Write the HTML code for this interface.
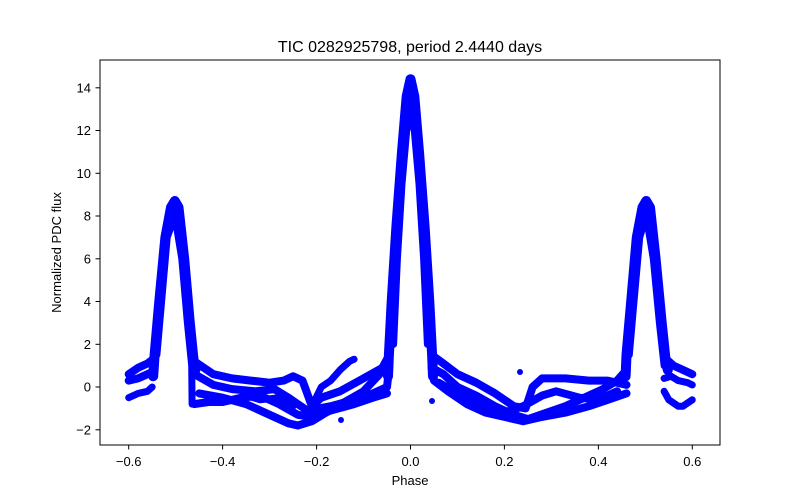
<!DOCTYPE html>
<html><head><meta charset="utf-8"><style>
body{margin:0;background:#fff}
svg{display:block;font-family:"Liberation Sans","DejaVu Sans",sans-serif}
</style></head><body>
<svg id="s" width="800" height="500" viewBox="0 0 800 500" xmlns="http://www.w3.org/2000/svg">
<rect width="800" height="500" fill="#fff"/>
<defs><clipPath id="c"><rect x="100" y="60" width="620" height="385"/></clipPath></defs>
<g id="data" clip-path="url(#c)"></g>
<circle cx="341" cy="420" r="3" fill="#00f"/>
<circle cx="520" cy="372" r="3" fill="#00f"/>
<circle cx="432" cy="401" r="3" fill="#00f"/>
<rect x="100" y="60" width="620" height="385" fill="none" stroke="#000" stroke-width="1"/>
<g stroke="#000" stroke-width="1">
<line x1="128.7" y1="445" x2="128.7" y2="449.5"/>
<line x1="222.6" y1="445" x2="222.6" y2="449.5"/>
<line x1="316.6" y1="445" x2="316.6" y2="449.5"/>
<line x1="410.5" y1="445" x2="410.5" y2="449.5"/>
<line x1="504.4" y1="445" x2="504.4" y2="449.5"/>
<line x1="598.4" y1="445" x2="598.4" y2="449.5"/>
<line x1="692.3" y1="445" x2="692.3" y2="449.5"/>
<line x1="95.5" y1="429.8" x2="100" y2="429.8"/>
<line x1="95.5" y1="387" x2="100" y2="387"/>
<line x1="95.5" y1="344.3" x2="100" y2="344.3"/>
<line x1="95.5" y1="301.5" x2="100" y2="301.5"/>
<line x1="95.5" y1="258.8" x2="100" y2="258.8"/>
<line x1="95.5" y1="216" x2="100" y2="216"/>
<line x1="95.5" y1="173.3" x2="100" y2="173.3"/>
<line x1="95.5" y1="130.5" x2="100" y2="130.5"/>
<line x1="95.5" y1="87.8" x2="100" y2="87.8"/>
</g>
<g font-size="13" fill="#000" text-anchor="middle">
<text x="128.7" y="466">−0.6</text>
<text x="222.6" y="466">−0.4</text>
<text x="316.6" y="466">−0.2</text>
<text x="410.5" y="466">0.0</text>
<text x="504.4" y="466">0.2</text>
<text x="598.4" y="466">0.4</text>
<text x="692.3" y="466">0.6</text>
</g>
<g font-size="13" fill="#000" text-anchor="end">
<text x="91" y="434.5">−2</text>
<text x="91" y="391.7">0</text>
<text x="91" y="349">2</text>
<text x="91" y="306.2">4</text>
<text x="91" y="263.5">6</text>
<text x="91" y="220.7">8</text>
<text x="91" y="178">10</text>
<text x="91" y="135.2">12</text>
<text x="91" y="92.5">14</text>
</g>
<text x="410" y="485" font-size="13" text-anchor="middle">Phase</text>
<text transform="translate(61,252.5) rotate(-90)" font-size="13" text-anchor="middle">Normalized PDC flux</text>
<text x="410" y="52" font-size="16" text-anchor="middle">TIC 0282925798, period 2.4440 days</text>
</svg>
<script>
var L=[
[8,[-0.6,0.6,-0.58,0.9,-0.56,1.1,-0.548,1.3]],
[8,[-0.6,0.3,-0.58,0.4,-0.56,0.6,-0.55,0.7]],
[7,[-0.6,-0.5,-0.58,-0.3,-0.56,-0.2,-0.55,0]],
[10,[-0.548,0.5,-0.545,1.5,-0.535,4,-0.522,7,-0.51,8.4,-0.502,8.7,-0.494,8.4,-0.482,6,-0.47,3,-0.462,1.3,-0.458,0.8]],
[7,[-0.54,1.5,-0.53,4,-0.518,7,-0.502,8,-0.487,6,-0.475,3,-0.466,1,-0.465,-0.8]],
[8,[-0.46,1.2,-0.42,0.6,-0.38,0.4,-0.34,0.3,-0.3,0.2,-0.27,0.3,-0.25,0.5,-0.23,0.3,-0.21,-0.9,-0.19,-0.5,-0.15,-0.2,-0.1,0.4,-0.06,0.9,-0.045,1.5]],
[8,[-0.46,0.6,-0.42,0.1,-0.38,-0.1,-0.33,-0.2,-0.29,-0.1,-0.26,-0.5,-0.22,-1.1,-0.17,-0.9,-0.12,-0.6,-0.08,-0.3,-0.05,0,-0.045,1]],
[8,[-0.46,-0.8,-0.43,-0.7,-0.4,-0.7,-0.36,-0.5,-0.32,-0.4,-0.28,-0.8,-0.24,-1.3,-0.21,-1.4,-0.17,-1.1,-0.12,-0.8,-0.08,-0.5,-0.05,-0.3]],
[8,[-0.45,-0.3,-0.4,-0.5,-0.35,-0.8,-0.3,-1.3,-0.26,-1.7,-0.24,-1.8,-0.21,-1.6,-0.18,-1.2,-0.14,-0.7,-0.1,-0.2,-0.07,0.5,-0.05,1]],
[7,[-0.21,-0.9,-0.19,0,-0.17,0.3,-0.15,0.8,-0.13,1.2,-0.12,1.3]],
[7,[-0.35,-0.4,-0.32,-0.6,-0.28,-0.5,-0.25,-0.9]],
[10,[-0.048,0.5,-0.046,1.5,-0.04,4,-0.03,7.5,-0.018,11,-0.008,13.6,0,14.4,0.008,13.6,0.018,11,0.03,7.5,0.04,4,0.046,1.5,0.048,0.5]],
[7,[-0.036,2,-0.028,6,-0.018,9.5,-0.008,12,0,12.8,0.008,12,0.018,9.5,0.028,6,0.036,2]],
[8,[0.045,1.5,0.07,1.1,0.1,0.6,0.14,0.2,0.18,-0.3,0.22,-0.9,0.245,-1,0.26,0,0.28,0.4,0.33,0.4,0.38,0.3,0.42,0.3,0.46,0.1]],
[8,[0.045,0.9,0.07,0.6,0.1,0,0.14,-0.4,0.18,-0.9,0.22,-1.3,0.25,-1.5,0.29,-1.2,0.33,-0.9,0.37,-0.5,0.41,-0.1,0.44,0.3,0.46,0.8]],
[8,[0.05,0.3,0.08,-0.2,0.12,-0.8,0.16,-1.2,0.2,-1.4,0.24,-1.6,0.28,-1.4,0.33,-1.2,0.38,-0.9,0.42,-0.6,0.46,-0.3]],
[8,[0.06,0.2,0.1,-0.3,0.13,-0.6,0.17,-1.1,0.2,-1.2,0.24,-0.9,0.28,-0.4,0.31,-0.2,0.36,-0.5,0.4,-0.6,0.44,-0.2]],
[10,[0.458,0.5,0.46,1.5,0.47,4,0.482,7,0.494,8.4,0.502,8.7,0.51,8.4,0.522,6,0.535,3,0.543,1.3,0.548,0.8]],
[7,[0.466,1.5,0.476,4,0.488,7,0.502,8,0.517,6,0.53,3,0.54,1]],
[8,[0.545,1.3,0.56,1.0,0.58,0.8,0.6,0.6]],
[7,[0.54,0.4,0.555,0.5,0.57,0.3,0.59,0.2,0.6,0.1]],
[7,[0.54,-0.2,0.55,-0.6,0.57,-0.9,0.58,-0.9,0.6,-0.6]]
];
var g=document.getElementById('data'),ns='http://www.w3.org/2000/svg';
L.forEach(function(l){var p=l[1],s=[];for(var i=0;i<p.length;i+=2){s.push((410.5+p[i]*469.6).toFixed(1)+','+(387-p[i+1]*21.375).toFixed(1));}
var e=document.createElementNS(ns,'polyline');e.setAttribute('points',s.join(' '));e.setAttribute('fill','none');e.setAttribute('stroke','#0000ff');e.setAttribute('stroke-width',l[0]);e.setAttribute('stroke-linejoin','round');e.setAttribute('stroke-linecap','round');g.appendChild(e);});
</script>
</body></html>
